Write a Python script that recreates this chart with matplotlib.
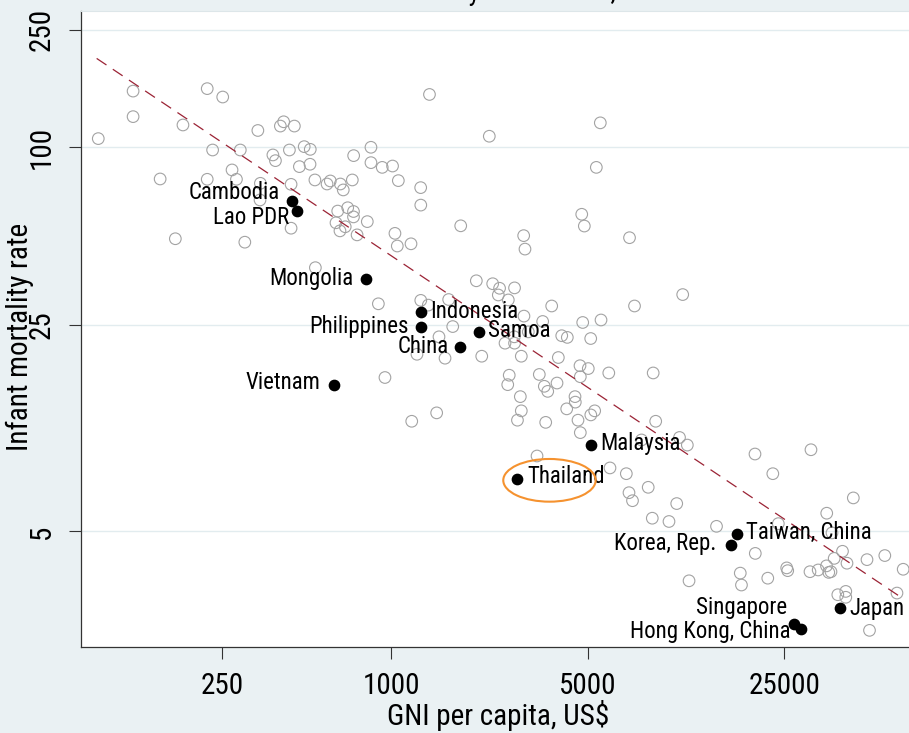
import numpy as np
import matplotlib
matplotlib.use("Agg")
import matplotlib.pyplot as plt
from matplotlib import font_manager
from matplotlib.patches import Ellipse
from matplotlib.transforms import ScaledTranslation

# ---------------------------------------------------------------- data
# all other economies (hollow markers): GNI per capita (US$), infant mortality
other_gni = [
    91, 121, 121, 182, 222, 252, 151, 171, 232, 222, 272, 282, 291, 343, 342,
    302, 336, 380, 388, 404, 415, 453, 435, 472, 491, 516, 515, 536, 441, 441,
    592, 608, 660, 676, 728, 736, 646, 701, 735, 735, 637, 658, 687, 757, 538,
    848, 848, 930, 1012, 1061, 1274, 1275, 1369, 2234, 1768, 823, 1032, 1052,
    1177, 5543, 5365, 7040, 4761, 4863, 2960, 2992, 2009, 2297, 2430, 2405,
    2747, 2610, 3723, 2967, 3458, 4799, 5575, 7334, 10880, 901, 1275, 1602,
    1656, 1480, 2100, 1236, 1555, 1356, 2541, 2747, 2741, 3074, 4042, 4231,
    5124, 2903, 3931, 4694, 5023, 4706, 5941, 8545, 2630, 2598, 3364, 3505,
    3604, 3889, 2880, 2903, 2813, 3545, 4210, 4506, 4517, 4618, 4706, 5128,
    5293, 8722, 7767, 10600, 11300, 3302, 6000, 6858, 7010, 7214, 8204, 10360,
    8482, 9725, 19660, 31090, 22750, 43970, 35370, 14350, 23800, 19710, 11460,
    17430, 17600, 21830, 25490, 25700, 30840, 32980, 35300, 35970, 36620,
    37600, 40240, 41750, 36930, 49180, 56900, 66140, 38730, 41340, 41340,
    62860, 50200, 951, 1184, 1452,
]
other_imr = [
    107, 155, 127, 119, 158, 148, 78.1, 49.0, 97.9, 77.9, 83.8, 77.9, 97.9,
    75.5, 66.3, 47.7, 114, 94.2, 90.1, 118, 122, 118, 97.9, 86.0, 100.5, 98.4,
    87.6, 77.5, 74.9, 53.2, 75.1, 76.9, 75.1, 71.7, 77.5, 93.7, 60.8, 62.4,
    60.6, 58.1, 55.5, 52.1, 53.8, 50.5, 39.1, 100, 88.7, 85.5, 86.4, 77.1,
    73.0, 63.7, 151, 109, 54.2, 56.0, 51.1, 46.3, 47.1, 121, 85.5, 49.4, 59.3,
    54.1, 50.2, 45.2, 35.3, 34.5, 33.3, 31.6, 33.4, 30.4, 29.0, 26.8, 25.7,
    25.5, 26.0, 29.0, 31.7, 29.5, 30.3, 30.5, 24.7, 22.8, 19.6, 19.9, 19.3,
    29.2, 21.7, 21.7, 22.8, 23.7, 23.0, 22.7, 22.5, 19.6, 19.4, 18.2, 17.8,
    16.7, 17.2, 17.2, 16.9, 15.7, 17.0, 15.5, 14.9, 15.9, 14.3, 12.8, 11.9,
    11.7, 13.0, 14.3, 13.7, 11.9, 10.8, 12.4, 12.8, 11.8, 10.2, 10.4, 9.80,
    9.00, 8.20, 7.84, 6.76, 6.35, 7.05, 6.21, 5.54, 5.40, 9.14, 9.45, 7.84,
    6.49, 5.76, 5.20, 5.31, 4.21, 3.40, 3.61, 3.29, 3.47, 3.76, 3.68, 3.65,
    3.70, 3.82, 3.63, 3.65, 4.05, 4.28, 3.90, 4.94, 4.01, 4.14, 3.72, 3.05,
    3.13, 2.99, 3.09, 2.31, 16.6, 11.8, 12.6,
]

# East Asia & Pacific economies (labelled, filled markers)
east_asia = ["Cambodia", "Lao PDR", "Mongolia", "Indonesia", "Philippines",
             "Samoa", "China", "Vietnam", "Thailand", "Malaysia",
             "Taiwan, China", "Korea, Rep.", "Singapore", "Hong Kong, China",
             "Japan"]
east_asia_gni = [444, 464, 814, 1274, 1274, 2058, 1764, 625, 2802, 5128,
                 16970, 16120, 26970, 28650, 39420]
east_asia_imr = [65.9, 60.8, 35.7, 27.6, 24.7, 23.6, 21.0, 15.7, 7.55, 9.82,
                 4.89, 4.50, 2.42, 2.34, 2.74]

# end points of the fitted log-log line
fit_gni = [89.8, 65650]
fit_imr = [200, 2.97]

x_ticks = [250, 1000, 5000, 25000]
y_ticks = [5, 25, 100, 250]

highlight = "Thailand"

# ---------------------------------------------------------------- style
# prefer a narrow sans face; fall back to the regular one at smaller sizes
installed = {f.name for f in font_manager.fontManager.ttflist}
narrow = [n for n in ("Liberation Sans Narrow", "Roboto Condensed",
                      "Arial Narrow", "Open Sans Condensed",
                      "DejaVu Sans Condensed") if n in installed]
if narrow:
    base_font = narrow[0]
    label_size, tick_size, axis_title_size, title_size = 16.5, 21, 21, 19.5
else:
    base_font = "Liberation Sans"
    label_size, tick_size, axis_title_size, title_size = 14, 19.5, 19.5, 18
plt.rcParams["font.family"] = [base_font, "DejaVu Sans"]
plt.rcParams["lines.scale_dashes"] = False

BG = "#EAF1F3"
GRID = "#E2ECEF"

# label placement: (dx, dy) in points and horizontal alignment
label_pos = {
    "Cambodia": (-8.6, 5.8, "right"),
    "Lao PDR": (-5.9, -4.9, "right"),
    "Mongolia": (-9.1, 0.7, "right"),
    "Indonesia": (6.7, 0.4, "left"),
    "Philippines": (-8.9, 0.0, "right"),
    "Samoa": (6.0, 1.2, "left"),
    "China": (-8.7, 0.6, "right"),
    "Vietnam": (-9.6, 1.2, "right"),
    "Thailand": (7.4, 1.3, "left"),
    "Malaysia": (7.1, 1.1, "left"),
    "Taiwan, China": (6.5, 1.1, "left"),
    "Korea, Rep.": (-10.1, 1.2, "right"),
    "Singapore": (-4.5, 12.1, "right"),
    "Hong Kong, China": (-7.4, -1.7, "right"),
    "Japan": (6.5, 0.3, "left"),
}

# ---------------------------------------------------------------- figure
W, H = 909, 733
fig = plt.figure(figsize=(W / 100, H / 100), dpi=100, facecolor=BG)
ax = fig.add_axes([81 / W, (H - 647.3) / H, (W - 81) / W, (647.3 - 11) / H])
ax.set_facecolor("white")
ax.set_xscale("log")
ax.set_yscale("log")
ax.set_xlim(79.0, 69360)
ax.set_ylim(2.024, 289.5)

ax.set_axisbelow(True)
ax.yaxis.grid(True, which="major", color=GRID, linewidth=1.0)
ax.xaxis.grid(False)

ax.scatter(other_gni, other_imr, s=70, facecolors="none",
           edgecolors="#A3A3A3", linewidths=0.8, zorder=2)
ax.plot(fit_gni, fit_imr, color="#9B2335", linewidth=0.9,
        dashes=(8.5, 5.5), zorder=3)
ax.scatter(east_asia_gni, east_asia_imr, s=55, color="black", zorder=4)

for name, gx, iy in zip(east_asia, east_asia_gni, east_asia_imr):
    dx, dy, ha = label_pos[name]
    ax.annotate(name, (gx, iy), xytext=(dx, dy), textcoords="offset points",
                ha=ha, va="center", fontsize=label_size, color="black",
                zorder=5)

# orange ring around the highlighted economy
hi = east_asia.index(highlight)
ring_tr = fig.dpi_scale_trans + ScaledTranslation(
    east_asia_gni[hi], east_asia_imr[hi], ax.transData)
ax.add_patch(Ellipse((0.325, -0.018), 0.924, 0.427, transform=ring_tr,
                     fill=False, edgecolor="#F5922F", linewidth=1.5,
                     zorder=6, clip_on=False))

# axes decoration
ax.set_xticks(x_ticks)
ax.set_xticklabels([str(v) for v in x_ticks])
ax.set_yticks(y_ticks)
ax.set_yticklabels([str(v) for v in y_ticks])
ax.minorticks_off()
ax.tick_params(axis="both", which="major", length=8.6, width=0.8,
               color="#333333", labelsize=tick_size, pad=9.5)
for lab in ax.get_yticklabels():
    lab.set_rotation(90)
    lab.set_va("center")
    lab.set_ha("right")

for side in ("left", "bottom"):
    ax.spines[side].set_color("#333333")
    ax.spines[side].set_linewidth(0.9)
ax.spines["right"].set_visible(False)
ax.spines["top"].set_color("#DDE6E9")
ax.spines["top"].set_linewidth(0.8)

ax.set_xlabel(r"GNI per capita, US\$", fontsize=axis_title_size)
ax.xaxis.label.set_va("center")
ax.xaxis.set_label_coords(0.5036, -0.1064)
ax.set_ylabel("Infant mortality rate", fontsize=axis_title_size)
ax.yaxis.label.set_va("center")
ax.yaxis.set_label_coords(-0.0735, 0.488)

fig.text(496 / W, 1.0, "Infant mortality and income, 2012", ha="center",
         va="baseline", fontsize=title_size)

fig.savefig("out.png", dpi=100, facecolor=BG)
